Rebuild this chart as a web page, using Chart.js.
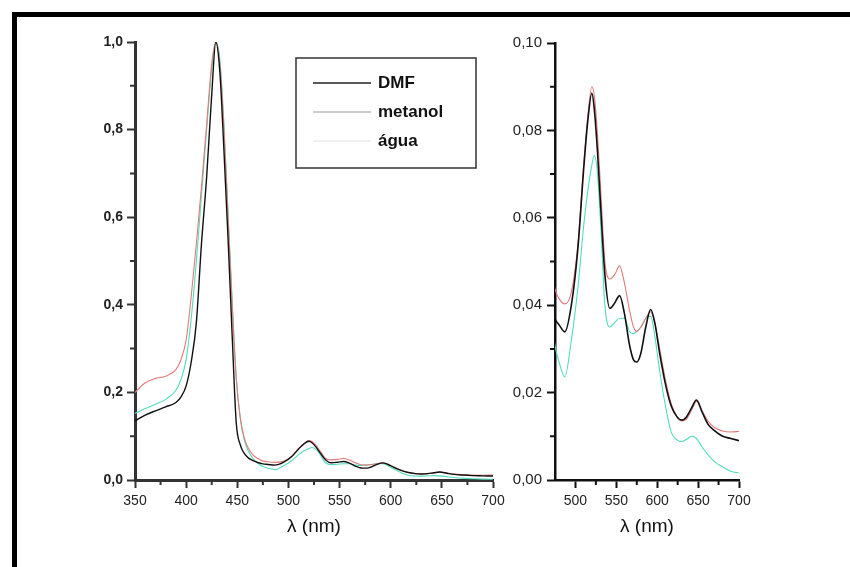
<!DOCTYPE html>
<html>
<head>
<meta charset="utf-8">
<script src="https://cdn.jsdelivr.net/npm/chart.js@4.4.1/dist/chart.umd.min.js"></script>
<style>
body { margin: 0; background: #fff; }
#page { position: relative; width: 850px; height: 567px; overflow: hidden; background: #fff; }
#frame { position: absolute; left: 12px; top: 12px; width: 900px; height: 600px;
         border-left: 5px solid #000; border-top: 5px solid #000; }
#left { position: absolute; left: 40px; top: 20px; }
#right { position: absolute; left: 470px; top: 20px; }
</style>
</head>
<body>
<div id="page">
  <div id="frame"></div>
  <canvas id="left" width="470" height="540"></canvas>
  <canvas id="right" width="290" height="540"></canvas>
</div>
<script>
// wavelength (nm)
const lambda = [350,360,370,380,390,395,400,405,410,415,
                420,425,429,433,437,441,445,449,453,457,
                461,465,470,475,480,487,495,503,510,515,
                520,523,527,531,536,542,548,554,560,566,
                571,575,580,586,592,597,603,610,617,624,
                630,636,642,648,655,662,670,680,690,700];

// normalised absorbance
const dmf = [0.135,0.148,0.158,0.167,0.177,0.19,0.215,0.27,0.36,0.54,
             0.69,0.88,1.0,0.93,0.75,0.55,0.33,0.13,0.08,0.06,
             0.05,0.045,0.04,0.0369,0.0355,0.0339,0.040,0.053,0.071,0.082,
             0.0885,0.085,0.075,0.062,0.047,0.0393,0.0405,0.0422,0.038,0.031,
             0.0275,0.027,0.029,0.035,0.039,0.036,0.029,0.022,0.017,0.0145,
             0.0137,0.0145,0.0165,0.0183,0.0155,0.0128,0.0113,0.0100,0.0095,0.009];

const metanol = [0.20,0.222,0.232,0.237,0.252,0.275,0.32,0.42,0.54,0.67,
                 0.81,0.95,1.0,0.95,0.80,0.60,0.40,0.23,0.14,0.095,
                 0.072,0.058,0.049,0.0437,0.0415,0.0403,0.043,0.054,0.072,0.083,
                 0.090,0.088,0.079,0.066,0.050,0.046,0.047,0.049,0.045,0.039,
                 0.035,0.034,0.035,0.037,0.0385,0.036,0.030,0.023,0.0175,0.0145,
                 0.0135,0.014,0.016,0.018,0.0158,0.0135,0.012,0.0112,0.011,0.0111];

const agua = [0.152,0.163,0.173,0.184,0.205,0.23,0.275,0.37,0.50,0.65,
              0.80,0.94,1.0,0.96,0.81,0.61,0.41,0.235,0.14,0.09,
              0.065,0.05,0.038,0.0308,0.027,0.0236,0.032,0.044,0.058,0.066,
              0.072,0.0743,0.070,0.058,0.040,0.035,0.036,0.037,0.037,0.034,
              0.0335,0.034,0.035,0.037,0.0375,0.033,0.025,0.017,0.011,0.0092,
              0.0088,0.0093,0.010,0.0095,0.0075,0.0058,0.0042,0.003,0.002,0.0016];

const legendNames = ['DMF', 'metanol', 'água'];

// minor tick positions
const leftMinorX = [375,425,475,525,575,625,675];
const leftMinorY = [0.1,0.3,0.5,0.7,0.9];
const rightMinorX = [525,575,625,675];
const rightMinorY = [0.01,0.03,0.05,0.07,0.09];
const rightMajorX = [500,550,600,650,700];

Chart.defaults.font.family = 'Arial, "Liberation Sans", sans-serif';
Chart.defaults.color = '#222';
Chart.defaults.animation = false;

const pts = vals => lambda.map((l, i) => ({x: l, y: vals[i]}));

function makeDatasets(wBlack) {
  return [
    {label: 'DMF', data: pts(dmf), borderColor: '#111', borderWidth: wBlack},
    {label: 'metanol', data: pts(metanol), borderColor: '#e47a7a', borderWidth: 1.1},
    {label: 'água', data: pts(agua), borderColor: '#52dcbc', borderWidth: 1.1}
  ].map(d => Object.assign(d, {pointRadius: 0, cubicInterpolationMode: 'monotone', fill: false}));
}

const minorTicks = {
  id: 'minorTicks',
  afterDraw(chart, args, o) {
    const {ctx, chartArea: a, scales: {x, y}} = chart;
    ctx.save();
    ctx.strokeStyle = o.color;
    ctx.lineWidth = o.width;
    ctx.beginPath();
    o.xs.forEach(v => {
      const px = x.getPixelForValue(v);
      ctx.moveTo(px, a.bottom); ctx.lineTo(px, a.bottom + o.len);
    });
    o.ys.forEach(v => {
      const py = y.getPixelForValue(v);
      ctx.moveTo(a.left, py); ctx.lineTo(a.left - o.len, py);
    });
    ctx.stroke();
    ctx.restore();
  }
};

// boxed legend inside the left plot
const boxLegend = {
  id: 'boxLegend',
  afterDraw(chart, args, o) {
    if (!o.show) return;
    const {ctx, chartArea: a} = chart;
    const bx = a.left + 161, by = a.top + 16, bw = 180, bh = 110;
    ctx.save();
    ctx.strokeStyle = '#333';
    ctx.lineWidth = 1.5;
    ctx.strokeRect(bx, by, bw, bh);
    const sample = ['#222', '#bdbdbd', '#ececec'];
    ctx.font = 'bold 17px Arial, "Liberation Sans", sans-serif';
    ctx.textBaseline = 'middle';
    ctx.fillStyle = '#111';
    legendNames.forEach((n, i) => {
      const yy = by + 25 + i * 29;
      ctx.strokeStyle = sample[i];
      ctx.lineWidth = 1.3;
      ctx.beginPath();
      ctx.moveTo(bx + 17, yy); ctx.lineTo(bx + 75, yy);
      ctx.stroke();
      ctx.fillText(n, bx + 82, yy);
    });
    ctx.restore();
  }
};

function axisX(min, max, extra) {
  return Object.assign({
    type: 'linear', min: min, max: max,
    ticks: {stepSize: 50, padding: 5, font: {size: 14}, color: '#222', maxRotation: 0},
    grid: {drawOnChartArea: false, tickLength: 8, tickWidth: 2, tickColor: '#333'},
    border: {display: true, color: '#333', width: 3},
    title: {display: true, text: 'λ (nm)', font: {size: 19}, color: '#111', padding: {top: 0, bottom: 22}},
    afterFit: s => { s.height = 80; }
  }, extra || {});
}

// full spectrum
new Chart(document.getElementById('left'), {
  type: 'line',
  data: {datasets: makeDatasets(1.4)},
  options: {
    responsive: false,
    devicePixelRatio: 1,
    layout: {padding: {top: 22, right: 17, left: 0, bottom: 0}},
    plugins: {
      legend: {display: false}, tooltip: {enabled: false},
      minorTicks: {xs: leftMinorX, ys: leftMinorY, len: 5, width: 2, color: '#333'},
      boxLegend: {show: true}
    },
    scales: {
      x: axisX(350, 700),
      y: {
        min: 0, max: 1,
        ticks: {stepSize: 0.2, padding: 4, font: {size: 14, weight: 'bold'}, color: '#222',
                callback: v => v.toFixed(1).replace('.', ',')},
        grid: {drawOnChartArea: false, tickLength: 8, tickWidth: 2, tickColor: '#333'},
        border: {display: true, color: '#333', width: 3},
        afterFit: s => { s.width = 95; }
      }
    }
  },
  plugins: [minorTicks, boxLegend]
});

// Q-band region
new Chart(document.getElementById('right'), {
  type: 'line',
  data: {datasets: makeDatasets(1.6)},
  options: {
    responsive: false,
    devicePixelRatio: 1,
    layout: {padding: {top: 23, right: 21, left: 0, bottom: 0}},
    plugins: {
      legend: {display: false}, tooltip: {enabled: false},
      minorTicks: {xs: rightMinorX, ys: rightMinorY, len: 5, width: 2, color: '#111'},
      boxLegend: {show: false}
    },
    scales: {
      x: axisX(475, 700, {
        afterBuildTicks: s => { s.ticks = rightMajorX.map(v => ({value: v})); },
        border: {display: true, color: '#111', width: 2.5},
        grid: {drawOnChartArea: false, tickLength: 8, tickWidth: 2, tickColor: '#111'}
      }),
      y: {
        min: 0, max: 0.1,
        ticks: {stepSize: 0.02, padding: 5, font: {size: 15}, color: '#222',
                callback: v => v.toFixed(2).replace('.', ',')},
        grid: {drawOnChartArea: false, tickLength: 8, tickWidth: 2, tickColor: '#111'},
        border: {display: true, color: '#111', width: 2.5},
        afterFit: s => { s.width = 85; }
      }
    }
  },
  plugins: [minorTicks, boxLegend]
});
</script>
</body>
</html>
